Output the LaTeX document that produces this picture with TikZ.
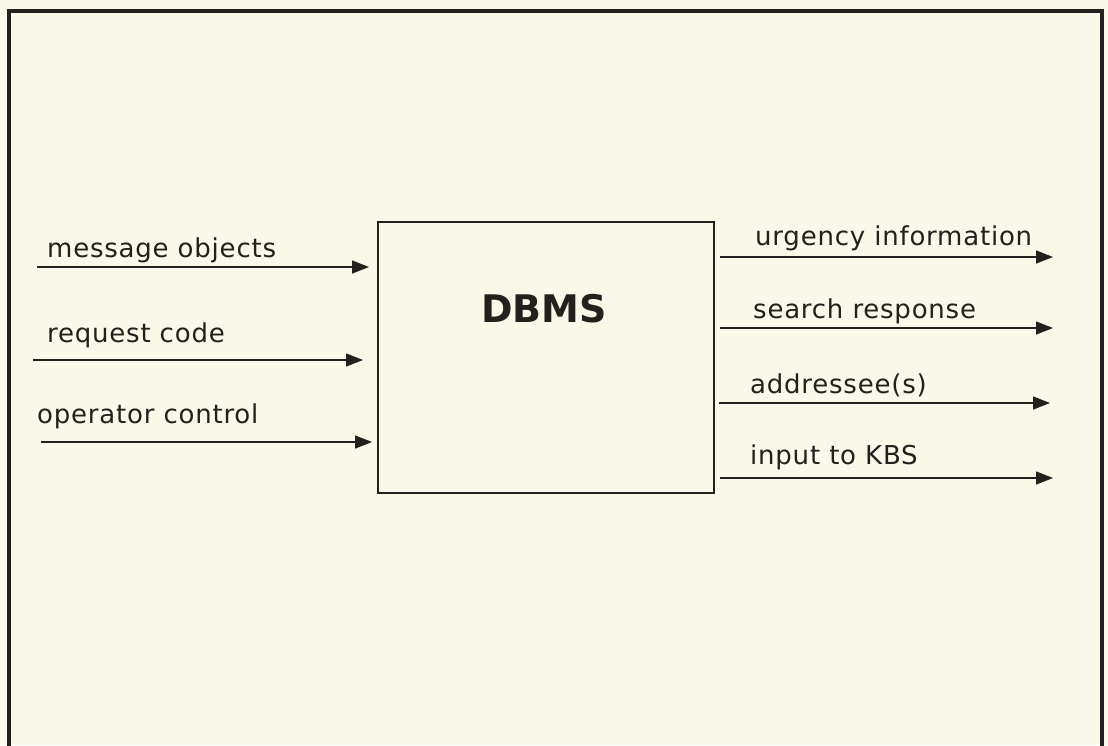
\documentclass[tikz,border=0pt]{standalone}
\usepackage{fontspec}
\setmainfont{DejaVu Sans}
\usetikzlibrary{arrows.meta}
\definecolor{paper}{RGB}{250,248,232}
\definecolor{ink}{RGB}{35,32,30}
\newfontfamily\lblfont[LetterSpace=3]{DejaVu Sans}
\tikzset{
  lbl/.style={anchor=base west, inner sep=0pt, text=ink, font=\lblfont\fontsize{26}{30}\selectfont},
  flow/.style={draw=ink, line width=1.4pt, -{Triangle[length=17pt, width=13pt]}}
}
\begin{document}
\begin{tikzpicture}[x=1pt, y=-1pt]
  \fill[paper] (0,0) rectangle (1108,745);
  \useasboundingbox (0,0) rectangle (1108,745);
  % outer frame, bottom edge cut off
  \draw[ink, line width=4pt] (9,760) -- (9,11) -- (1102,11) -- (1102,760);
  % the box
  \node[draw=ink, line width=1.5pt, minimum width=336pt, minimum height=271pt, inner sep=0pt]
    (dbms) at (546,357.5) {};
  \node[text=ink, font=\bfseries\fontsize{38}{42}\selectfont, anchor=base] (title) at (544,322) {DBMS};
  % inputs
  \coordinate (mo0) at (37,267);  \coordinate (mo1) at (369,267);
  \coordinate (rc0) at (33,360);  \coordinate (rc1) at (363,360);
  \coordinate (oc0) at (41,442);  \coordinate (oc1) at (372,442);
  \node[lbl] (mo) at (47,257) {message objects};
  \node[lbl] (rc) at (47,342) {request code};
  \node[lbl] (oc) at (37,423) {operator control};
  \draw[flow] (mo0) -- (mo1);
  \draw[flow] (rc0) -- (rc1);
  \draw[flow] (oc0) -- (oc1);
  % outputs
  \coordinate (ui0) at (720,257); \coordinate (ui1) at (1053,257);
  \coordinate (sr0) at (720,328); \coordinate (sr1) at (1053,328);
  \coordinate (ad0) at (719,403); \coordinate (ad1) at (1050,403);
  \coordinate (kb0) at (720,478); \coordinate (kb1) at (1053,478);
  \node[lbl] (ui) at (755,245) {urgency information};
  \node[lbl] (sr) at (753,318) {search response};
  \node[lbl] (ad) at (750,393) {addressee(s)};
  \node[lbl] (kb) at (750,464) {input to KBS};
  \draw[flow] (ui0) -- (ui1);
  \draw[flow] (sr0) -- (sr1);
  \draw[flow] (ad0) -- (ad1);
  \draw[flow] (kb0) -- (kb1);
\end{tikzpicture}
\end{document}
